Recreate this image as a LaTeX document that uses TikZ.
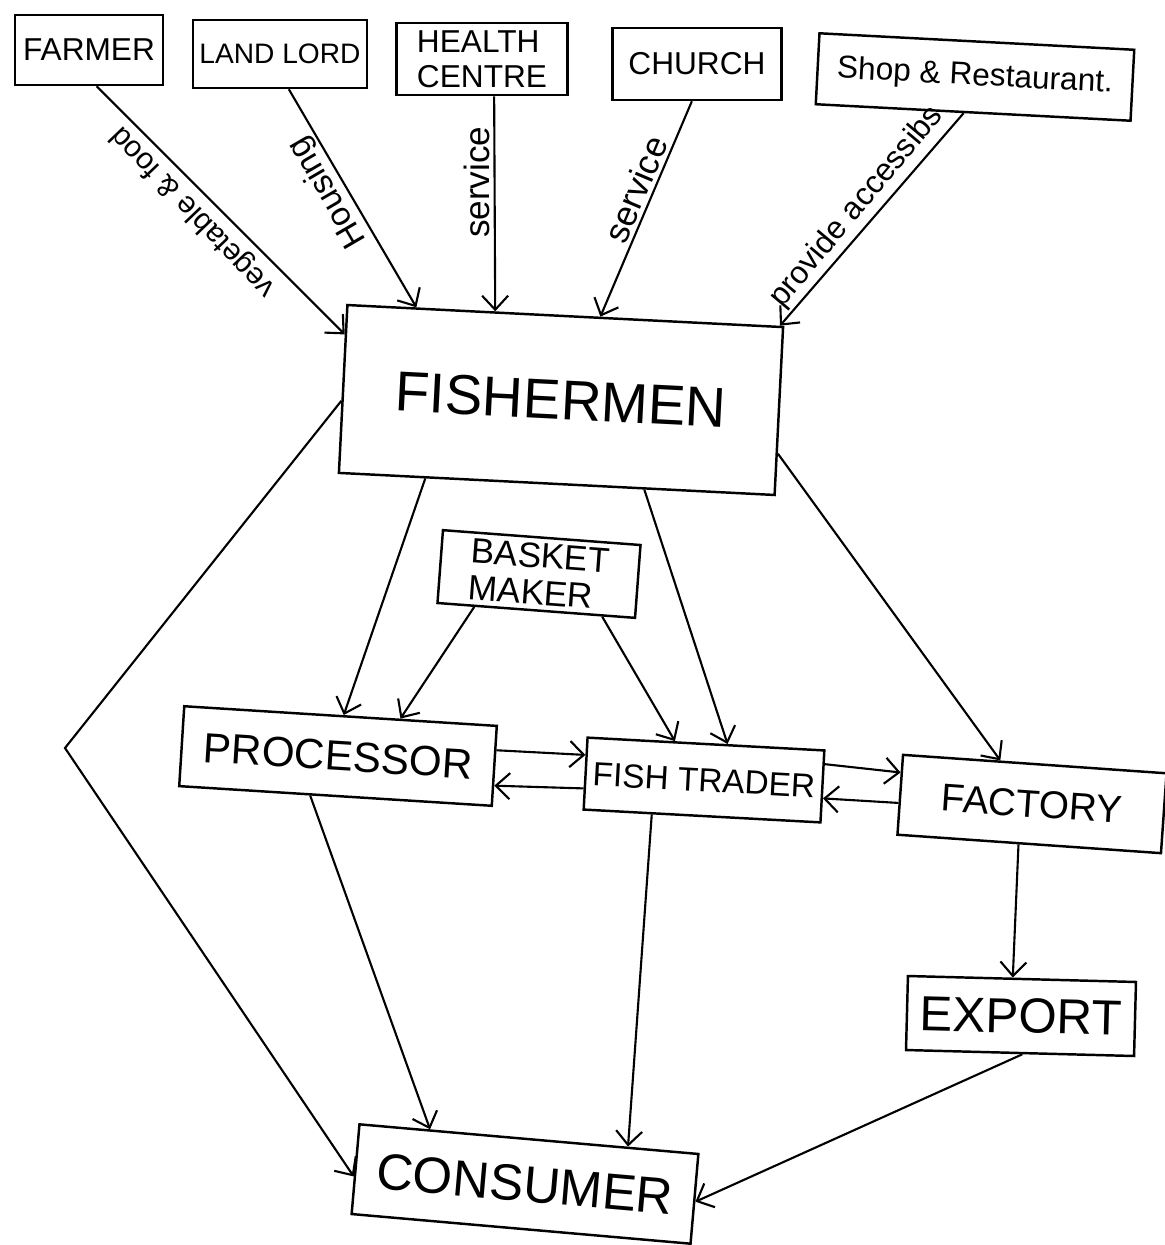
\documentclass[tikz,border=0pt]{standalone}
\usepackage{fontspec}
\setmainfont{Liberation Sans}
\usetikzlibrary{arrows.meta,calc}
\begin{document}
\begin{tikzpicture}[x=0.01cm,y=-0.01cm,
  box/.style={draw, line width=0.7pt, inner sep=0pt},
  fs/.style={font=\fontsize{#1}{#1}\selectfont},
  arr/.style={line width=0.6pt, -{Straight Barb[length=1.4mm,width=2.6mm]}},
  lab/.style={inner sep=1.5pt}]
\useasboundingbox (0,0) rectangle (1165,1245);

% top row
\node[box, fs=9, minimum width=1.48cm, minimum height=0.70cm] (farmer) at (89,50) {FARMER};
\node[box, fs=8, minimum width=1.74cm, minimum height=0.68cm] (landlord) at (280,54) {LAND LORD};
\node[box, font=\fontsize{9}{10}\selectfont, align=left, minimum width=1.71cm, minimum height=0.72cm] (health) at (482,59) {HEALTH\\CENTRE};
\node[box, fs=9, minimum width=1.69cm, minimum height=0.72cm] (church) at (697,64) {CHURCH};
\node[box, fs=9, minimum width=3.15cm, minimum height=0.71cm, rotate=-3] (shop) at (975,77) {Shop \& Restaurant.};

% middle
\node[box, fs=16, minimum width=4.36cm, minimum height=1.68cm, rotate=-2.9] (fishermen) at (561,400) {FISHERMEN};
\node[box, font=\fontsize{10}{10.5}\selectfont, align=left, minimum width=1.98cm, minimum height=0.73cm, rotate=-4.3] (basket) at (539,574) {BASKET\\MAKER};
\node[box, fs=12, minimum width=3.13cm, minimum height=0.80cm, rotate=-3.6] (processor) at (338,756) {PROCESSOR};
\node[box, fs=9.5, minimum width=2.37cm, minimum height=0.72cm, rotate=-3.1] (trader) at (704,780) {FISH TRADER};
\node[box, fs=11, minimum width=2.64cm, minimum height=0.80cm, rotate=-4] (factory) at (1032,804) {FACTORY};
\node[box, fs=14, minimum width=2.28cm, minimum height=0.74cm, rotate=-1.5] (export) at (1021,1016) {EXPORT};
\node[box, fs=14.5, minimum width=3.40cm, minimum height=0.90cm, rotate=-5] (consumer) at (525,1184) {CONSUMER};

\coordinate (bend) at (65,748);

% inputs to fishermen
\draw[arr] ($(farmer.south west)!0.55!(farmer.south east)$) -- node[lab, fs=8.5, pos=0.45, rotate=133.7, anchor=south] {vegetable \& food} ($(fishermen.north west)!0.18!(fishermen.south west)$);
\draw[arr] ($(landlord.south west)!0.55!(landlord.south east)$) -- node[lab, fs=9.5, pos=0.43, rotate=120.2, anchor=south, inner sep=0.5pt] {Housing} ($(fishermen.north west)!0.16!(fishermen.north east)$);
\draw[arr] ($(health.south west)!0.57!(health.south east)$) -- node[lab, fs=10, pos=0.40, rotate=90, anchor=south, inner sep=1pt] {service} ($(fishermen.north west)!0.34!(fishermen.north east)$);
\draw[arr] ($(church.south west)!0.47!(church.south east)$) -- node[lab, fs=10, pos=0.44, rotate=67, anchor=south, inner sep=1pt] {service} ($(fishermen.north west)!0.58!(fishermen.north east)$);
\draw[arr] ($(shop.south west)!0.47!(shop.south east)$) -- node[lab, fs=9, pos=0.5, rotate=50, anchor=south, inner sep=1pt] {provide accessibs} ($(fishermen.north west)!0.99!(fishermen.north east)$);

% from fishermen
\draw[arr] ($(fishermen.north west)!0.57!(fishermen.south west)$) -- (bend) -- ($(consumer.north west)!0.58!(consumer.south west)$);
\draw[arr] ($(fishermen.south west)!0.20!(fishermen.south east)$) -- ($(processor.north west)!0.51!(processor.north east)$);
\draw[arr] ($(fishermen.south west)!0.70!(fishermen.south east)$) -- ($(trader.north west)!0.59!(trader.north east)$);
\draw[arr] ($(fishermen.north east)!0.75!(fishermen.south east)$) -- ($(factory.north west)!0.37!(factory.north east)$);

% basket maker
\draw[arr] ($(basket.south west)!0.19!(basket.south east)$) -- ($(processor.north west)!0.69!(processor.north east)$);
\draw[arr] ($(basket.south west)!0.83!(basket.south east)$) -- ($(trader.north west)!0.37!(trader.north east)$);

% exchanges
\draw[arr] ($(processor.north east)!0.31!(processor.south east)$) -- ($(trader.north west)!0.25!(trader.south west)$);
\draw[arr] ($(trader.north west)!0.70!(trader.south west)$) -- ($(processor.north east)!0.74!(processor.south east)$);
\draw[arr] ($(trader.north east)!0.20!(trader.south east)$) -- ($(factory.north west)!0.23!(factory.south west)$);
\draw[arr] ($(factory.north west)!0.60!(factory.south west)$) -- ($(trader.north east)!0.66!(trader.south east)$);

% to consumer / export
\draw[arr] ($(processor.south west)!0.42!(processor.south east)$) -- ($(consumer.north west)!0.21!(consumer.north east)$);
\draw[arr] ($(trader.south west)!0.29!(trader.south east)$) -- ($(consumer.north west)!0.79!(consumer.north east)$);
\draw[arr] ($(factory.south west)!0.46!(factory.south east)$) -- ($(export.north west)!0.46!(export.north east)$);
\draw[arr] ($(export.south west)!0.51!(export.south east)$) -- ($(consumer.north east)!0.53!(consumer.south east)$);
\end{tikzpicture}
\end{document}
